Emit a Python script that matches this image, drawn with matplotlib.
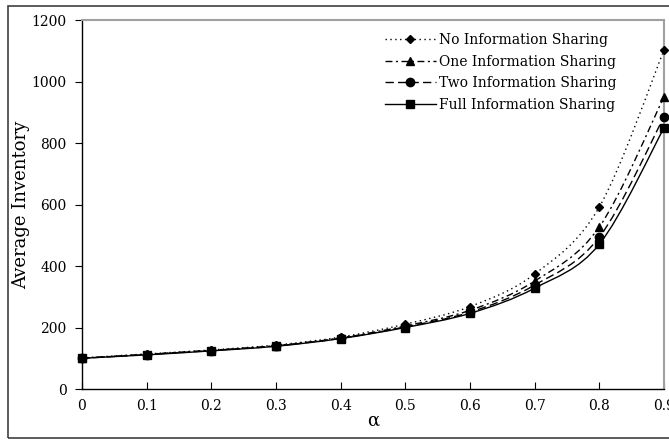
import matplotlib
matplotlib.use("Agg")
import matplotlib.pyplot as plt
from matplotlib.path import Path
from matplotlib.patches import PathPatch, Rectangle
from matplotlib.lines import Line2D
import numpy as np

# data
alpha = [0, 0.1, 0.2, 0.3, 0.4, 0.5, 0.6, 0.7, 0.8, 0.9]
no_info = [101, 114, 127, 143, 169, 211, 268, 374, 592, 1102]
one_info = [100, 113, 126, 141, 166, 205, 256, 351, 527, 950]
two_info = [100, 112, 125, 140, 165, 202, 250, 338, 494, 885]
full_info = [100, 111, 124, 139, 164, 200, 246, 328, 471, 849]

labels = ["No Information Sharing", "One Information Sharing",
          "Two Information Sharing", "Full Information Sharing"]
series = [no_info, one_info, two_info, full_info]
styles = [(0, (1, 2.5)), (0, (5, 2.5, 1.5, 2.5)), (0, (6, 3)), "-"]
markers = ["D", "^", "o", "s"]
msizes = [4.5, 6, 6, 5.5]

plt.rcParams['font.family'] = ['DejaVu Serif']

fig = plt.figure(figsize=(6.69, 4.44), dpi=100)
ax = fig.add_axes([82 / 669, 55 / 444, 582 / 669, 369 / 444])

# outer border like the spreadsheet chart area
fig.patches.append(Rectangle((8 / 669, 6 / 444), 0.99, 432 / 444, transform=fig.transFigure,
                             fill=False, edgecolor="#404040", linewidth=1.2))


def smooth_path(x, y):
    # excel-like smoothed line: cubic bezier between points
    pts = np.column_stack([x, y]).astype(float)
    n = len(pts)
    verts = [pts[0]]
    codes = [Path.MOVETO]
    for i in range(n - 1):
        p0 = pts[i - 1] if i > 0 else pts[i]
        p1 = pts[i]
        p2 = pts[i + 1]
        p3 = pts[i + 2] if i + 2 < n else pts[i + 1]
        c1 = p1 + (p2 - p0) / 6.0
        c2 = p2 - (p3 - p1) / 6.0
        verts += [c1, c2, p2]
        codes += [Path.CURVE4] * 3
    return Path(verts, codes)


handles = []
for vals, ls, mk, ms, lab in zip(series, styles, markers, msizes, labels):
    ax.add_patch(PathPatch(smooth_path(alpha, vals), fill=False, edgecolor="black",
                           linestyle=ls, linewidth=1.0, clip_on=False))
    ax.plot(alpha, vals, linestyle="none", marker=mk, markersize=ms, color="black",
            clip_on=False, zorder=3)
    handles.append(Line2D([], [], color="black", linestyle=ls, linewidth=1.0,
                          marker=mk, markersize=ms, label=lab))

ax.set_xlim(0, 0.9)
ax.set_ylim(0, 1200)
ax.set_xticks(alpha)
ax.set_xticklabels(["0", "0.1", "0.2", "0.3", "0.4", "0.5", "0.6", "0.7", "0.8", "0.9"])
ax.set_yticks([0, 200, 400, 600, 800, 1000, 1200])

ax.tick_params(axis="x", direction="in", length=5, labelsize=10, pad=7)
ax.tick_params(axis="y", direction="out", length=5, labelsize=10, pad=6)
for s in ["top", "right"]:
    ax.spines[s].set_color("#a0a0a0")
    ax.spines[s].set_linewidth(1.5)
for s in ["left", "bottom"]:
    ax.spines[s].set_color("black")
    ax.spines[s].set_linewidth(1.0)

ax.set_xlabel("α", fontsize=13)
ax.xaxis.set_label_coords(0.5, -0.06)
ax.set_ylabel("Average Inventory", fontsize=13)
ax.yaxis.set_label_coords(-0.089, 0.5)

ax.legend(handles=handles, loc="upper left", bbox_to_anchor=(0.52, 0.965), frameon=False,
          fontsize=10, handlelength=3.7, handletextpad=0.2, labelspacing=0.55,
          borderpad=0, borderaxespad=0)

fig.savefig("out.png", dpi=100)
